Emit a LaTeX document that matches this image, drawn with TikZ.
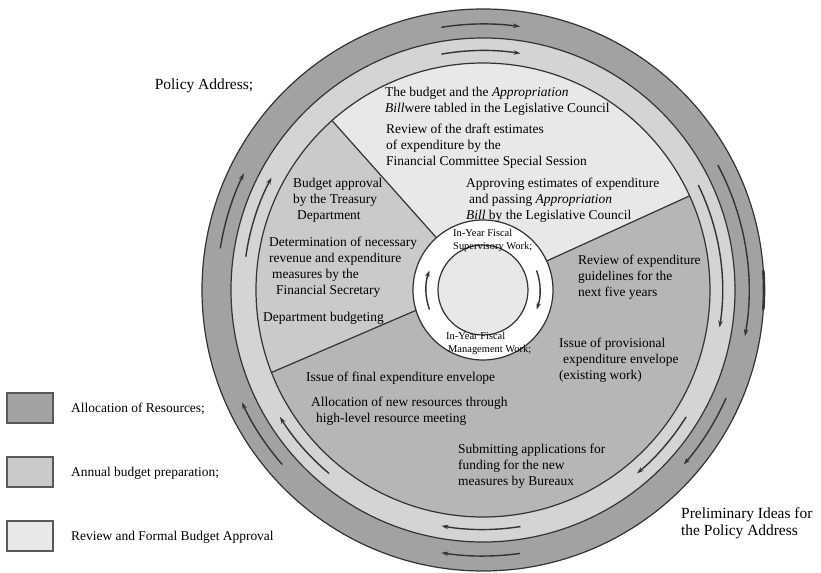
\documentclass[tikz,border=0pt]{standalone}
\usepackage{fontspec}
\setmainfont{Liberation Serif}
\usetikzlibrary{arrows.meta}
\definecolor{ringdark}{HTML}{A2A2A2}
\definecolor{ringlight}{HTML}{D4D4D4}
\definecolor{allocgray}{HTML}{B6B6B6}
\definecolor{prepgray}{HTML}{CACACA}
\definecolor{reviewgray}{HTML}{E8E8E8}
\definecolor{linegray}{HTML}{333333}
\tikzset{
  ringline/.style={draw=linegray, line width=1.2bp},
  ringarrow/.style={linegray, line width=1.4bp, -{Stealth[length=7bp,width=4.5bp]}},
  stagetext/.style={anchor=north west, inner sep=0pt, align=left,
    font=\fontsize{13.5}{16}\selectfont},
  innertext/.style={anchor=north west, inner sep=0pt, align=left,
    font=\fontsize{10.5}{13}\selectfont},
  outtext/.style={inner sep=0pt, align=left,
    font=\fontsize{15.5}{17.5}\selectfont},
  legendbox/.style={draw=black!65, line width=1.6bp}
}
\begin{document}
\begin{tikzpicture}[x=1bp,y=1bp]
  \useasboundingbox (-483,-283) rectangle (338,290);
  % rings
  \fill[ringdark] (0,0) circle (281);
  \fill[ringlight] (0,0) circle (252);
  \fill[allocgray] (0,0) circle (227);
  % sectors
  \fill[reviewgray] (0,0) -- (24.5:227) arc[start angle=24.5, end angle=131.7, radius=227] -- cycle;
  \fill[prepgray] (0,0) -- (131.7:227) arc[start angle=131.7, end angle=201.3, radius=227] -- (196.9:70) -- cycle;
  \draw[ringline] (24.5:70) -- (24.5:227) (131.7:70) -- (131.7:227) (196.9:70) -- (201.3:227);
  \foreach \r in {281,252,227} \draw[ringline] (0,0) circle (\r);
  \draw[linegray, line width=2.6bp] (-4:281) arc[start angle=-4, end angle=4, radius=281];
  % centre
  \draw[ringline, fill=white] (0,0) circle (70);
  \draw[ringline, fill=reviewgray] (0,0) circle (45);
  % arrows round the rings
  \foreach \a/\b/\r in {99/82/266, 28/-10/266, -24/-41/266, -82/-99/266, 221/205/266, 171/154/266,
      100/81/239.5, 26/-9/239.5, -32/-50/239.5, -81/-100/239.5, 230/212/239.5, 172/152/239.5,
      200/160/57, 20/-20/57}
    \draw[ringarrow] (\a:\r) arc[start angle=\a, end angle=\b, radius=\r];
  % texts in the sectors
  \node[stagetext] (tabled) at (-98,203) {The budget and the \textit{Appropriation}\\\textit{Bill}were tabled in the Legislative Council};
  \node[stagetext] (draft) at (-97,166) {Review of the draft estimates\\of expenditure by the\\Financial Committee Special Session};
  \node[stagetext] (approving) at (-17,112) {Approving estimates of expenditure\\\hspace*{3bp}and passing \textit{Appropriation}\\\textit{Bill} by the Legislative Council};
  \node[stagetext] (treasury) at (-190,112) {Budget approval\\by the Treasury\\\hspace*{4bp}Department};
  \node[stagetext] (revenue) at (-214,53) {Determination of necessary\\revenue and expenditure\\\hspace*{3bp}measures by the\\\hspace*{7bp}Financial Secretary};
  \node[stagetext] (deptbudget) at (-220,-22) {Department budgeting};
  \node[stagetext] (guidelines) at (95,35) {Review of expenditure\\guidelines for the\\next five years};
  \node[stagetext] (provisional) at (76,-48) {Issue of provisional\\\hspace*{4bp}expenditure envelope\\(existing work)};
  \node[stagetext] (finalenv) at (-177,-82) {Issue of final expenditure envelope};
  \node[stagetext] (newres) at (-172,-107) {Allocation of new resources through\\\hspace*{5bp}high-level resource meeting};
  \node[stagetext] (bureaux) at (-25,-154) {Submitting applications for\\funding for the new\\measures by Bureaux};
  \node[innertext] (supervisory) at (-30,61) {In-Year Fiscal\\Supervisory Work;};
  \node[innertext] (management) at (-37,-42) {In-Year Fiscal\\\hspace*{2bp}Management Work;};
  % outside texts
  \node[outtext] (policy) at (-279,204) {Policy Address;};
  \node[outtext, anchor=north west] (prelim) at (198,-217) {Preliminary Ideas for\\the Policy Address};
  % legend
  \foreach \y/\c/\texn in {-103/ringdark/Allocation of Resources;, -167/prepgray/Annual budget preparation;,
      -231/reviewgray/Review and Formal Budget Approval} {
    \draw[legendbox, fill=\c] (-476,\y) rectangle (-430,\y-30);
    \path (-412,\y-16) node[anchor=west, inner sep=0pt, font=\fontsize{13.5}{16}\selectfont] (key\c) {\texn};
  }
\end{tikzpicture}
\end{document}
